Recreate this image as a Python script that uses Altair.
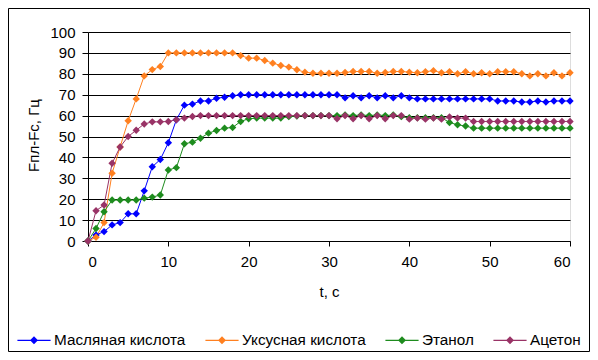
import altair as alt
import pandas as pd

t_values = list(range(61))

series_names = ["Масляная кислота", "Уксусная кислота", "Этанол", "Ацетон"]
series_colors = ["#0000FF", "#FF8020", "#1E8C1E", "#993366"]

butyric = [0, 2.9, 4.5, 7.7, 8.8, 13, 13, 24, 35.5, 39,
           47, 58, 65, 65.5, 67, 67, 68.3, 68.8, 69.5, 70,
           70, 70, 70, 70, 70, 70, 70, 70, 70, 70,
           70, 70, 68.5, 69.5, 68.5, 69.5, 68.5, 69.5, 68.5, 69.5,
           68.5, 68, 68, 68, 68, 68, 68, 68, 68, 68,
           68, 67, 67, 67, 66.5, 66.5, 67, 66.5, 67, 67,
           67]
acetic = [0, 1.8, 8.8, 32.4, 45, 57.5, 68, 79, 82, 83.5,
          90, 90, 90, 90, 90, 90, 90, 90, 90, 88.7,
          87.5, 87.5, 86.4, 85.1, 84, 83.2, 81.9, 80.8, 80.3, 80.3,
          80.3, 80.3, 80.6, 81.1, 81.1, 81.1, 80.3, 80.6, 81.1, 81.1,
          80.8, 80.5, 81, 81.5, 80.5, 81, 80, 81, 80, 80.5,
          80, 81, 81, 81, 80, 79, 80, 79, 80.5, 79,
          80.5]
ethanol = [0, 6, 14, 19.6, 19.6, 19.6, 19.6, 20.5, 21, 22,
           34, 35.1, 46.5, 47.3, 49.2, 51.6, 52.9, 54, 54.3, 57.2,
           58.5, 58.8, 58.8, 58.8, 58.8, 59.5, 59.8, 60, 60, 60,
           60, 60, 60.3, 60, 60.3, 60, 60.3, 60, 60.3, 59.5,
           59, 59, 59, 59, 59, 56.7, 55.6, 55, 54, 54,
           54, 54, 54, 54, 54, 54, 54, 54, 54, 54,
           54]
acetone = [0, 14.5, 17.2, 37.2, 45, 50, 53, 56, 57, 57,
           57.2, 58, 58.8, 59.6, 60, 60, 60, 60, 60, 60,
           60, 60, 60, 60, 60, 60, 60, 60, 60, 60,
           60, 58.5, 60, 58.5, 60, 58.5, 60, 58.5, 60, 60,
           58.3, 58.8, 58.3, 58.8, 58.3, 59.3, 58.8, 58.8, 57.2, 57.2,
           57.2, 57.2, 57.2, 57.2, 57.2, 57.2, 57.2, 57.2, 57.2, 57.2,
           57.2]

x_ticks = [0, 10, 20, 30, 40, 50, 60]
y_ticks = [0, 10, 20, 30, 40, 50, 60, 70, 80, 90, 100]

rows = []
for name, vals in zip(series_names, [butyric, acetic, ethanol, acetone]):
    for t, v in zip(t_values, vals):
        rows.append({"t": t, "v": v, "series": name})
df = pd.DataFrame(rows)

FONT = "Liberation Sans"
W, H = 482, 209

x_axis = alt.Axis(values=x_ticks, title="t, c", grid=False,
                  tickSize=5, labelPadding=8, labelFontSize=15,
                  titleFontSize=15, titleFontWeight="normal",
                  titleX=W / 2, titleY=50, titleBaseline="middle",
                  labelOverlap=False,
                  domainColor="black", tickColor="black",
                  labelColor="black", titleColor="black")
y_axis = alt.Axis(values=y_ticks, title="Fпл-Fc, Гц", grid=True,
                  gridColor="black", gridWidth=1, gridOpacity=1,
                  tickSize=6, labelPadding=7, labelFontSize=15,
                  titleFontSize=15, titleFontWeight="normal",
                  titleX=-55, titleY=103, titleBaseline="middle",
                  titleAlign="center", labelOverlap=False,
                  domainColor="black", tickColor="black",
                  labelColor="black", titleColor="black")

x_scale = alt.Scale(domain=[0, 60], nice=False)
y_scale = alt.Scale(domain=[0, 100], nice=False)
color_scale = alt.Scale(domain=series_names, range=series_colors)

legend_symbol = ("M-1,-0.033L1,-0.033L1,0.033L-1,0.033Z "
                 "M0,-0.24L0.24,0L0,0.24L-0.24,0Z")

lines = alt.Chart(df).mark_line(strokeWidth=1, clip=False).encode(
    x=alt.X("t:Q", scale=x_scale, axis=x_axis),
    y=alt.Y("v:Q", scale=y_scale, axis=y_axis),
    color=alt.Color("series:N", scale=color_scale, legend=None),
    detail="series:N",
)

points = alt.Chart(df).mark_point(shape="diamond", filled=True, size=55,
                                  opacity=1, clip=False).encode(
    x=alt.X("t:Q", scale=x_scale, axis=x_axis),
    y=alt.Y("v:Q", scale=y_scale, axis=y_axis),
    color=alt.Color("series:N", scale=color_scale, sort=series_names,
                    legend=alt.Legend(title=None, orient="none",
                                      direction="horizontal",
                                      legendX=-71, legendY=291,
                                      symbolType=legend_symbol,
                                      symbolSize=1100, symbolStrokeWidth=0,
                                      labelFontSize=15.3, labelOffset=3,
                                      columnPadding=19, padding=0,
                                      labelColor="black")),
)

border = alt.Chart(alt.Data(values=[{}])).mark_rect(
    fill=None, stroke="black", strokeWidth=1, clip=False
).encode(
    x=alt.value(-79.5), x2=alt.value(W + 19.5),
    y=alt.value(-23.5), y2=alt.value(H + 110.5),
)

chart = alt.layer(lines, points, border).resolve_legend(
    color="independent"
).properties(
    width=W, height=H,
    autosize=alt.AutoSizeParams(type="none"),
    padding={"left": 80, "top": 24, "right": 20, "bottom": 111},
    background="white",
).configure_view(
    fill="#C0C0C0", stroke=None
).configure(font=FONT)

chart.save("out.html", embed_options={"renderer": "svg", "actions": False})
